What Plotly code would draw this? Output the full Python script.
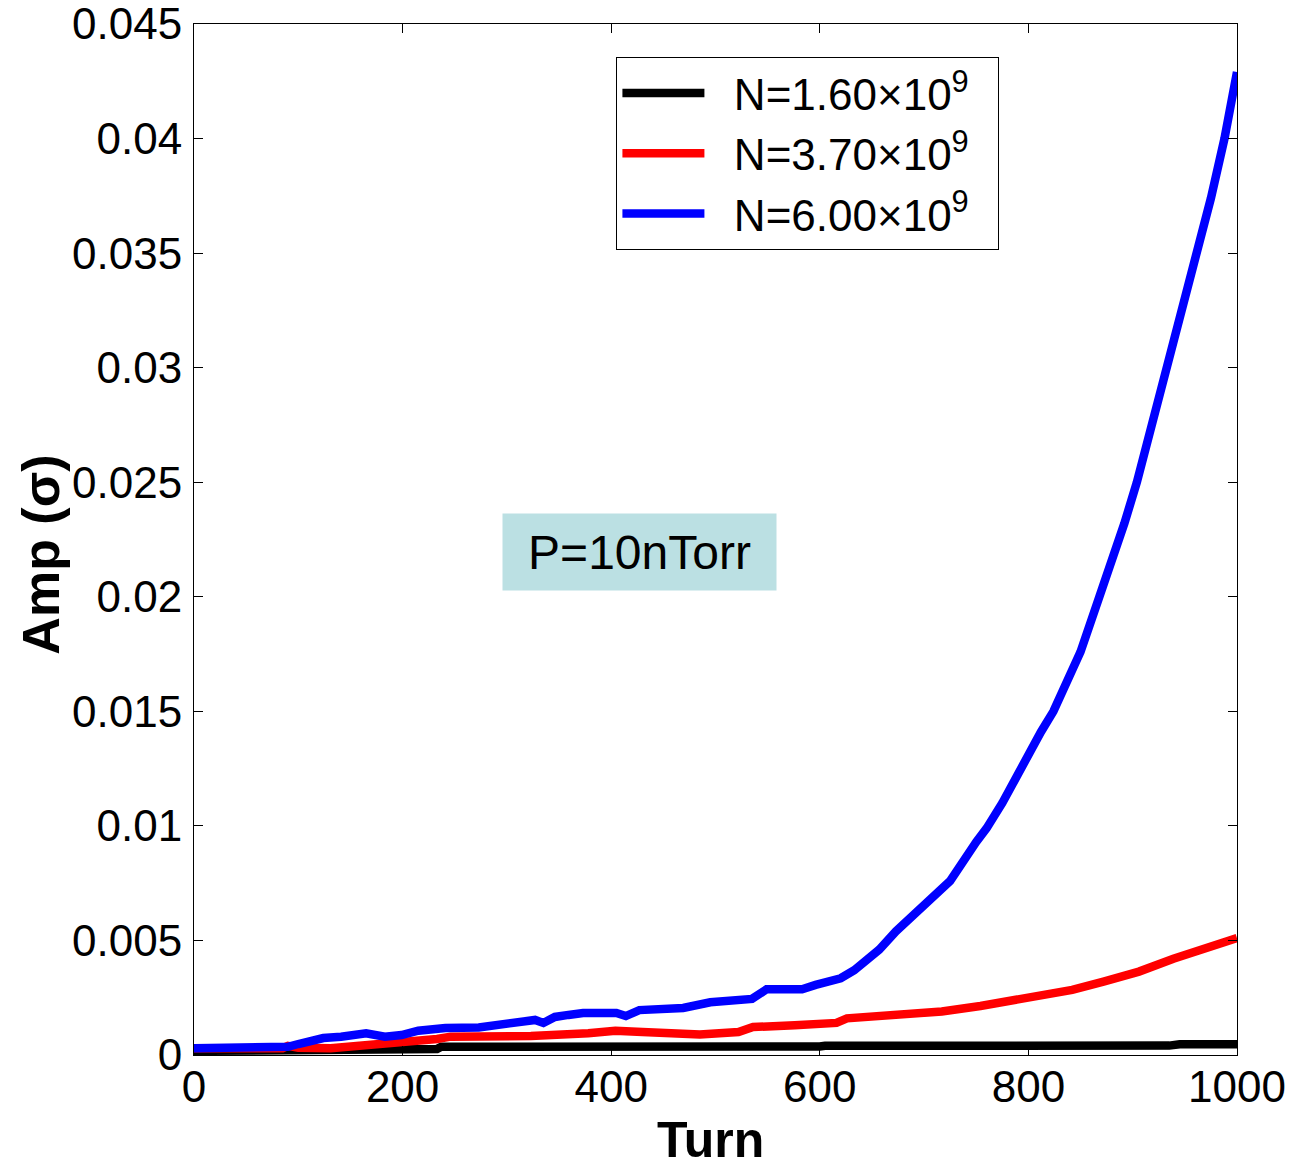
import plotly.graph_objects as go

# ---------------- data ----------------
turns_black = [0, 170, 180, 233, 237, 352, 358, 445, 448, 452, 515, 520, 600, 605, 718, 722, 935, 945, 1000]
amp_black = [0.00018, 0.00020, 0.00026, 0.00026, 0.00036, 0.00036, 0.00038, 0.00038, 0.00030, 0.00038,
             0.00036, 0.00037, 0.00037, 0.00040, 0.00040, 0.00036, 0.00041, 0.00047, 0.00047]

turns_red = [0, 85, 90, 100, 131, 148, 165, 180, 211, 233, 246, 284, 323, 378, 404, 430, 469, 485,
             522, 536, 576, 616, 626, 684, 717, 754, 788, 822, 842, 872, 906, 939, 973, 1000]
amp_red = [0.00030, 0.00030, 0.00040, 0.00032, 0.00030, 0.00036, 0.00050, 0.00052, 0.00058, 0.00070,
           0.00080, 0.00080, 0.00083, 0.00095, 0.00106, 0.00100, 0.00095, 0.00090, 0.00100, 0.00122,
           0.00130, 0.00140, 0.00160, 0.00175, 0.00190, 0.00214, 0.00240, 0.00260, 0.00284, 0.00320,
           0.00364, 0.00420, 0.00470, 0.00510]

turns_blue = [0, 40, 90, 100, 124, 141, 165, 183, 199, 215, 241, 273, 298, 314, 327, 335, 346, 359,
              373, 405, 414, 427, 453, 469, 495, 515, 535, 549, 583, 596, 620, 633, 657, 673, 690,
              704, 725, 750, 760, 775, 800, 812, 824, 837, 850, 868, 881, 892, 904, 918, 933, 948,
              963, 975, 988, 1000]
amp_blue = [0.00030, 0.00034, 0.00036, 0.00048, 0.00074, 0.00080, 0.00095, 0.00080, 0.00087, 0.00106,
            0.00118, 0.00120, 0.00135, 0.00153, 0.00153, 0.00140, 0.00166, 0.00175, 0.00183, 0.00183,
            0.00170, 0.00196, 0.00205, 0.00205, 0.00230, 0.00240, 0.00245, 0.00287, 0.00287, 0.00306,
            0.00335, 0.00370, 0.00460, 0.00540, 0.00610, 0.00670, 0.00760, 0.00930, 0.00990, 0.01100,
            0.01320, 0.01410, 0.01500, 0.01630, 0.01760, 0.02000, 0.02160, 0.02320, 0.02500, 0.02740,
            0.03000, 0.03250, 0.03500, 0.03740, 0.04000, 0.04290]

series_names = ["N=1.60×10<sup>9</sup>", "N=3.70×10<sup>9</sup>", "N=6.00×10<sup>9</sup>"]
series_colors = ["#000000", "#FF0000", "#0000FF"]

x_tickvals = [0, 200, 400, 600, 800, 1000]
x_ticktext = ["0", "200", "400", "600", "800", "1000"]
y_tickvals = [0, 0.005, 0.01, 0.015, 0.02, 0.025, 0.03, 0.035, 0.04, 0.045]
y_ticktext = ["0", "0.005", "0.01", "0.015", "0.02", "0.025", "0.03", "0.035", "0.04", "0.045"]

x_title = "Turn"
y_title = "Amp (σ)"
note_text = "P=10nTorr"

# ---------------- figure ----------------
FONT = "Liberation Sans, Arial, sans-serif"
NB = "\u00a0"
fig = go.Figure()
for xs, ys, name, col in zip([turns_black, turns_red, turns_blue],
                             [amp_black, amp_red, amp_blue],
                             series_names, series_colors):
    fig.add_trace(go.Scatter(x=xs, y=ys, mode="lines", name=NB * 2 + name + NB * 2,
                             line=dict(color=col, width=8.5)))

axis_common = dict(showgrid=False, zeroline=False, showline=True, linecolor="black",
                   linewidth=1, mirror="ticks", ticks="inside", ticklen=9, tickwidth=1,
                   tickcolor="black", automargin=False, ticklabeloverflow="allow",
                   tickfont=dict(family=FONT, size=44, color="black"))

fig.update_xaxes(range=[0, 1000], tickmode="array", tickvals=x_tickvals, ticktext=x_ticktext,
                 ticklabelstandoff=-7, **axis_common)
fig.update_yaxes(range=[0, 0.045], tickmode="array", tickvals=y_tickvals, ticktext=y_ticktext,
                 ticklabelstandoff=2, **axis_common)

fig.add_annotation(text=f"<b>{x_title}</b>", xref="paper", yref="paper", x=0.495, y=-0.082,
                   xanchor="center", yanchor="middle", showarrow=False,
                   font=dict(family=FONT, size=50, color="black"))
fig.add_annotation(text=f"<b>{y_title}</b>", xref="paper", yref="paper", x=-0.147, y=0.485,
                   xanchor="center", yanchor="middle", showarrow=False, textangle=-90,
                   font=dict(family=FONT, size=52, color="black"))
fig.add_annotation(text=note_text, xref="paper", yref="paper", x=0.4271, y=0.4879,
                   xanchor="center", yanchor="middle", showarrow=False,
                   width=273, height=76, borderpad=0, bgcolor="#BBE0E3",
                   font=dict(family=FONT, size=48, color="black"))

# the page body adds an 8 px offset, so the figure is sized 8 px smaller
fig.update_layout(
    width=1286, height=1158,
    margin=dict(l=186, r=57, t=16, b=111, autoexpand=False),
    paper_bgcolor="white", plot_bgcolor="white",
    showlegend=True,
    legend=dict(x=0.4050, y=0.968, xanchor="left", yanchor="top",
                bgcolor="white", bordercolor="black", borderwidth=1,
                font=dict(family=FONT, size=44, color="black"),
                itemwidth=82, tracegroupgap=0),
)

fig.write_html("out.html")
